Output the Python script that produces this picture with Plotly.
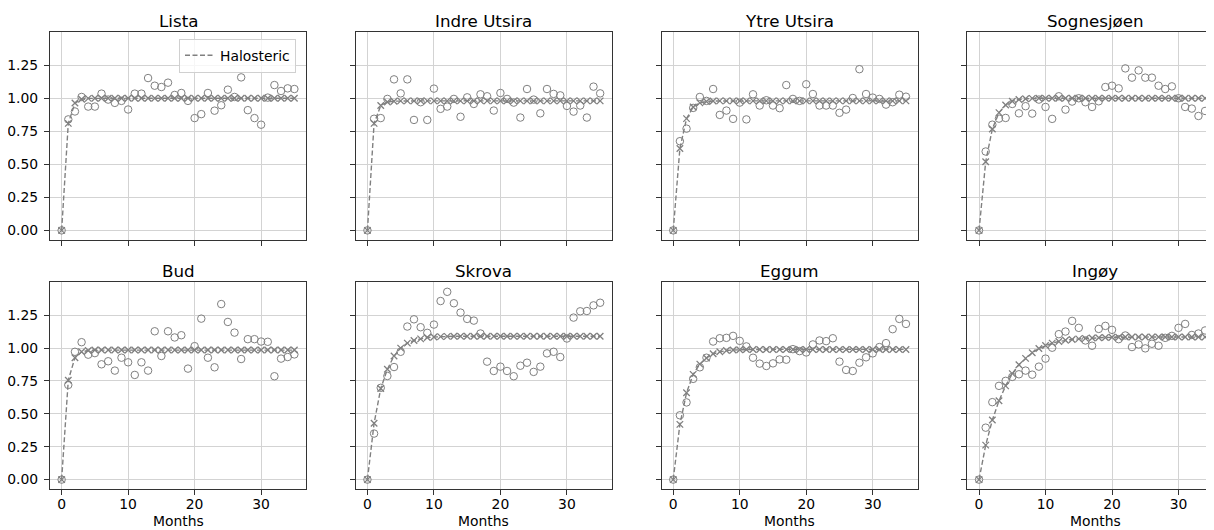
import plotly.graph_objects as go

months = list(range(36))
stations = ["Lista", "Indre Utsira", "Ytre Utsira", "Sognesjøen",
            "Bud", "Skrova", "Eggum", "Ingøy"]

obs_lista = [0.0, 0.84, 0.90, 1.01, 0.937, 0.937, 1.035, 0.99, 0.965, 0.98,
             0.915, 1.035, 1.035, 1.153, 1.095, 1.085, 1.118, 1.025, 1.04, 0.98,
             0.85, 0.88, 1.04, 0.906, 0.947, 1.065, 1.01, 1.158, 0.91, 0.85,
             0.80, 1.005, 1.10, 1.055, 1.075, 1.07]
halo_lista = [0.0, 0.81, 0.964, 0.993, 0.999, 1.0, 1.0, 1.0, 1.0, 1.0,
              1.0, 1.0, 1.0, 1.0, 1.0, 1.0, 1.0, 1.0, 1.0, 1.0,
              1.0, 1.0, 1.0, 1.0, 1.0, 1.0, 1.0, 1.0, 1.0, 1.0,
              1.0, 1.0, 1.0, 1.0, 1.0, 1.0]

obs_indre = [0.0, 0.845, 0.85, 0.995, 1.143, 1.037, 1.143, 0.836, 0.97, 0.836,
             1.073, 0.92, 0.937, 0.995, 0.86, 1.007, 0.957, 1.03, 1.015, 0.907,
             1.04, 0.995, 0.967, 0.854, 1.07, 0.99, 0.886, 1.07, 1.033, 1.022,
             0.942, 0.899, 0.945, 0.854, 1.088, 1.037]
halo_indre = [0.0, 0.81, 0.945, 0.972, 0.978, 0.98, 0.98, 0.98, 0.98, 0.98,
              0.98, 0.98, 0.98, 0.98, 0.98, 0.98, 0.98, 0.98, 0.98, 0.98,
              0.98, 0.98, 0.98, 0.98, 0.98, 0.98, 0.98, 0.98, 0.98, 0.98,
              0.98, 0.98, 0.98, 0.98, 0.98, 0.98]

obs_ytre = [0.0, 0.675, 0.77, 0.927, 1.01, 0.98, 1.07, 0.874, 0.907, 0.844,
            0.967, 0.84, 1.03, 0.945, 0.985, 0.945, 0.925, 1.10, 0.995, 0.98,
            1.106, 1.032, 0.945, 0.945, 0.945, 0.89, 0.914, 1.002, 1.22, 1.032,
            1.005, 0.995, 0.952, 0.97, 1.027, 1.012]
halo_ytre = [0.0, 0.62, 0.846, 0.934, 0.965, 0.975, 0.979, 0.98, 0.98, 0.98,
             0.98, 0.98, 0.98, 0.98, 0.98, 0.98, 0.98, 0.98, 0.98, 0.98,
             0.98, 0.98, 0.98, 0.98, 0.98, 0.98, 0.98, 0.98, 0.98, 0.98,
             0.98, 0.98, 0.98, 0.98, 0.98, 0.98]

obs_sogn = [0.0, 0.597, 0.80, 0.846, 0.851, 0.957, 0.886, 0.94, 0.884, 0.99,
            0.934, 0.844, 1.015, 0.914, 0.975, 1.0, 0.97, 0.934, 0.977, 1.085,
            1.095, 1.075, 1.226, 1.156, 1.211, 1.156, 1.156, 1.095, 1.07, 1.09,
            1.0, 0.934, 0.922, 0.866, 0.904, 0.934]
halo_sogn = [0.0, 0.52, 0.768, 0.891, 0.949, 0.978, 0.991, 0.996, 0.999, 1.0,
             1.0, 1.0, 1.0, 1.0, 1.0, 1.0, 1.0, 1.0, 1.0, 1.0,
             1.0, 1.0, 1.0, 1.0, 1.0, 1.0, 1.0, 1.0, 1.0, 1.0,
             1.0, 1.0, 1.0, 1.0, 1.0, 1.0]

obs_bud = [0.0, 0.72, 0.972, 1.045, 0.95, 0.962, 0.877, 0.90, 0.829, 0.927,
           0.892, 0.796, 0.892, 0.829, 1.128, 0.94, 1.128, 1.081, 1.098, 0.844,
           1.015, 1.224, 0.927, 0.854, 1.335, 1.199, 1.118, 0.917, 1.068, 1.068,
           1.05, 1.048, 0.786, 0.92, 0.932, 0.952]
halo_bud = [0.0, 0.756, 0.927, 0.972, 0.982, 0.985, 0.985, 0.985, 0.985, 0.985,
            0.985, 0.985, 0.985, 0.985, 0.985, 0.985, 0.985, 0.985, 0.985, 0.985,
            0.985, 0.985, 0.985, 0.985, 0.985, 0.985, 0.985, 0.985, 0.985, 0.985,
            0.985, 0.985, 0.985, 0.985, 0.985, 0.985]

obs_skrova = [0.0, 0.35, 0.698, 0.788, 0.856, 0.972, 1.164, 1.219, 1.159, 1.116,
              1.179, 1.358, 1.428, 1.341, 1.27, 1.222, 1.209, 1.111, 0.897, 0.826,
              0.859, 0.826, 0.786, 0.866, 0.889, 0.819, 0.859, 0.96, 0.972, 0.932,
              1.073, 1.232, 1.28, 1.282, 1.325, 1.345]
halo_skrova = [0.0, 0.428, 0.693, 0.839, 0.94, 1.0, 1.038, 1.058, 1.07, 1.08,
               1.084, 1.087, 1.089, 1.09, 1.09, 1.09, 1.09, 1.09, 1.09, 1.09,
               1.09, 1.09, 1.09, 1.09, 1.09, 1.09, 1.09, 1.09, 1.09, 1.09,
               1.09, 1.09, 1.09, 1.09, 1.09, 1.09]

obs_eggum = [0.0, 0.489, 0.587, 0.766, 0.854, 0.927, 1.05, 1.075, 1.078, 1.093,
             1.055, 1.013, 0.927, 0.882, 0.864, 0.884, 0.914, 0.912, 0.992, 0.977,
             0.967, 1.028, 1.058, 1.053, 1.075, 0.897, 0.834, 0.826, 0.889, 0.93,
             0.96, 1.008, 1.038, 1.144, 1.222, 1.184]
halo_eggum = [0.0, 0.42, 0.66, 0.80, 0.878, 0.925, 0.957, 0.972, 0.982, 0.986,
              0.988, 0.99, 0.99, 0.99, 0.99, 0.99, 0.99, 0.99, 0.99, 0.99,
              0.99, 0.99, 0.99, 0.99, 0.99, 0.99, 0.99, 0.99, 0.99, 0.99,
              0.99, 0.99, 0.99, 0.99, 0.99, 0.99]

obs_ingoy = [0.0, 0.395, 0.589, 0.713, 0.751, 0.781, 0.801, 0.829, 0.798, 0.859,
             0.92, 1.003, 1.106, 1.126, 1.207, 1.154, 1.058, 1.018, 1.146, 1.169,
             1.139, 1.068, 1.096, 1.008, 1.028, 0.998, 1.033, 1.018, 1.078, 1.093,
             1.154, 1.184, 1.10, 1.111, 1.134, 1.134]
halo_ingoy = [0.0, 0.262, 0.453, 0.599, 0.713, 0.806, 0.874, 0.922, 0.965, 0.997,
              1.02, 1.038, 1.05, 1.06, 1.066, 1.07, 1.074, 1.077, 1.079, 1.081,
              1.082, 1.083, 1.084, 1.085, 1.085, 1.085, 1.085, 1.085, 1.085, 1.085,
              1.085, 1.085, 1.085, 1.085, 1.085, 1.085]

observed = [obs_lista, obs_indre, obs_ytre, obs_sogn,
            obs_bud, obs_skrova, obs_eggum, obs_ingoy]
halosteric = [halo_lista, halo_indre, halo_ytre, halo_sogn,
              halo_bud, halo_skrova, halo_eggum, halo_ingoy]

x_ticks = [0, 10, 20, 30]
y_ticks = [0.0, 0.25, 0.5, 0.75, 1.0, 1.25]
x_label = "Months"
legend_label = "Halosteric"

# ---- layout geometry (page pixels; the page body has an 8px margin) ----
OFF = 8
W, H = 1214 - OFF, 530 - OFF
ML, MR = 50 - OFF, 0
MT = 32.3 - OFF
MB = H - (489 - OFF)
PW = W - ML - MR
PH = H - MT - MB


def fx(p):
    return (p - OFF - ML) / PW


def fy(p):
    return (H - MB - (p - OFF)) / PH


col_left = [50, 355.8, 661.6, 967.4]
panel_w = 256
row_top = [32.3, 282.3]
row_bot = [240, 489]
title_y = [21.5, 271]
px_per_unit = panel_w / 38.5
x_range_full = [-1.75, 36.75]

GRAY = "#808080"
FONT = "DejaVu Sans"
TICK_SIZE = 13.9
TITLE_SIZE = 16.7

fig = go.Figure()
layout = dict(
    width=W, height=H,
    margin=dict(l=ML, r=MR, t=MT, b=MB, autoexpand=False),
    paper_bgcolor="white", plot_bgcolor="white",
    font=dict(family=FONT, size=TICK_SIZE, color="black"),
    showlegend=True,
)
annotations = []

for i, name in enumerate(stations):
    r, c = divmod(i, 4)
    ax = "" if i == 0 else str(i + 1)
    left = col_left[c]
    right = min(left + panel_w, 1214)
    xd = [fx(left), min(fx(right), 1.0)]
    yd = [fy(row_bot[r]), fy(row_top[r])]
    xr = [x_range_full[0], x_range_full[0] + (right - left) / px_per_unit]

    common = dict(showline=True, mirror=True, linecolor="#333333", linewidth=1,
                  showgrid=True, gridcolor="#d3d3d3", gridwidth=1,
                  zeroline=False, ticks="outside", ticklen=5, tickwidth=1,
                  tickcolor="#333333",
                  tickfont=dict(family=FONT, size=TICK_SIZE, color="black"))
    layout["xaxis" + ax] = dict(
        domain=xd, range=xr, anchor="y" + ax, tickmode="array",
        tickvals=x_ticks, showticklabels=(r == 1), ticklabelstandoff=-3,
        **common)
    layout["yaxis" + ax] = dict(
        domain=yd, range=[-0.0715, 1.5015], anchor="x" + ax, tickmode="array",
        tickvals=y_ticks, tickformat=".2f", showticklabels=(c == 0),
        ticklabelstandoff=3,
        **common)

    # observed (open circles)
    fig.add_trace(go.Scatter(
        x=months, y=observed[i], mode="markers", xaxis="x" + ax, yaxis="y" + ax,
        marker=dict(symbol="circle-open", size=7.5, color=GRAY,
                    line=dict(width=1, color=GRAY)),
        showlegend=False, cliponaxis=True))
    # halosteric dashed line
    fig.add_trace(go.Scatter(
        x=months, y=halosteric[i], mode="lines", xaxis="x" + ax, yaxis="y" + ax,
        line=dict(color=GRAY, width=1.4, dash="5px,2.5px"),
        name=legend_label, showlegend=(i == 0)))
    # halosteric x markers
    fig.add_trace(go.Scatter(
        x=months, y=halosteric[i], mode="markers", xaxis="x" + ax, yaxis="y" + ax,
        marker=dict(symbol="x-thin", size=6.5, color=GRAY,
                    line=dict(width=1.3, color=GRAY)),
        showlegend=False))

    cx = fx(left + 128)
    annotations.append(dict(
        text=name, xref="paper", yref="paper",
        x=cx, y=fy(title_y[r]), xanchor="center", yanchor="middle",
        showarrow=False,
        font=dict(family=FONT, size=TITLE_SIZE, color="black")))
    if r == 1:
        annotations.append(dict(
            text=x_label, xref="paper", yref="paper",
            x=cx, y=fy(521), xanchor="center", yanchor="middle",
            showarrow=False,
            font=dict(family=FONT, size=TICK_SIZE, color="black")))

layout["annotations"] = annotations
layout["legend"] = dict(
    x=fx(296), y=fy(39), xanchor="right", yanchor="top",
    bordercolor="#d0d0d0", borderwidth=1, bgcolor="rgba(255,255,255,0.8)",
    font=dict(family=FONT, size=TICK_SIZE, color="black"), itemwidth=30,
    tracegroupgap=0)

fig.update_layout(**layout)
fig.write_html("out.html")
